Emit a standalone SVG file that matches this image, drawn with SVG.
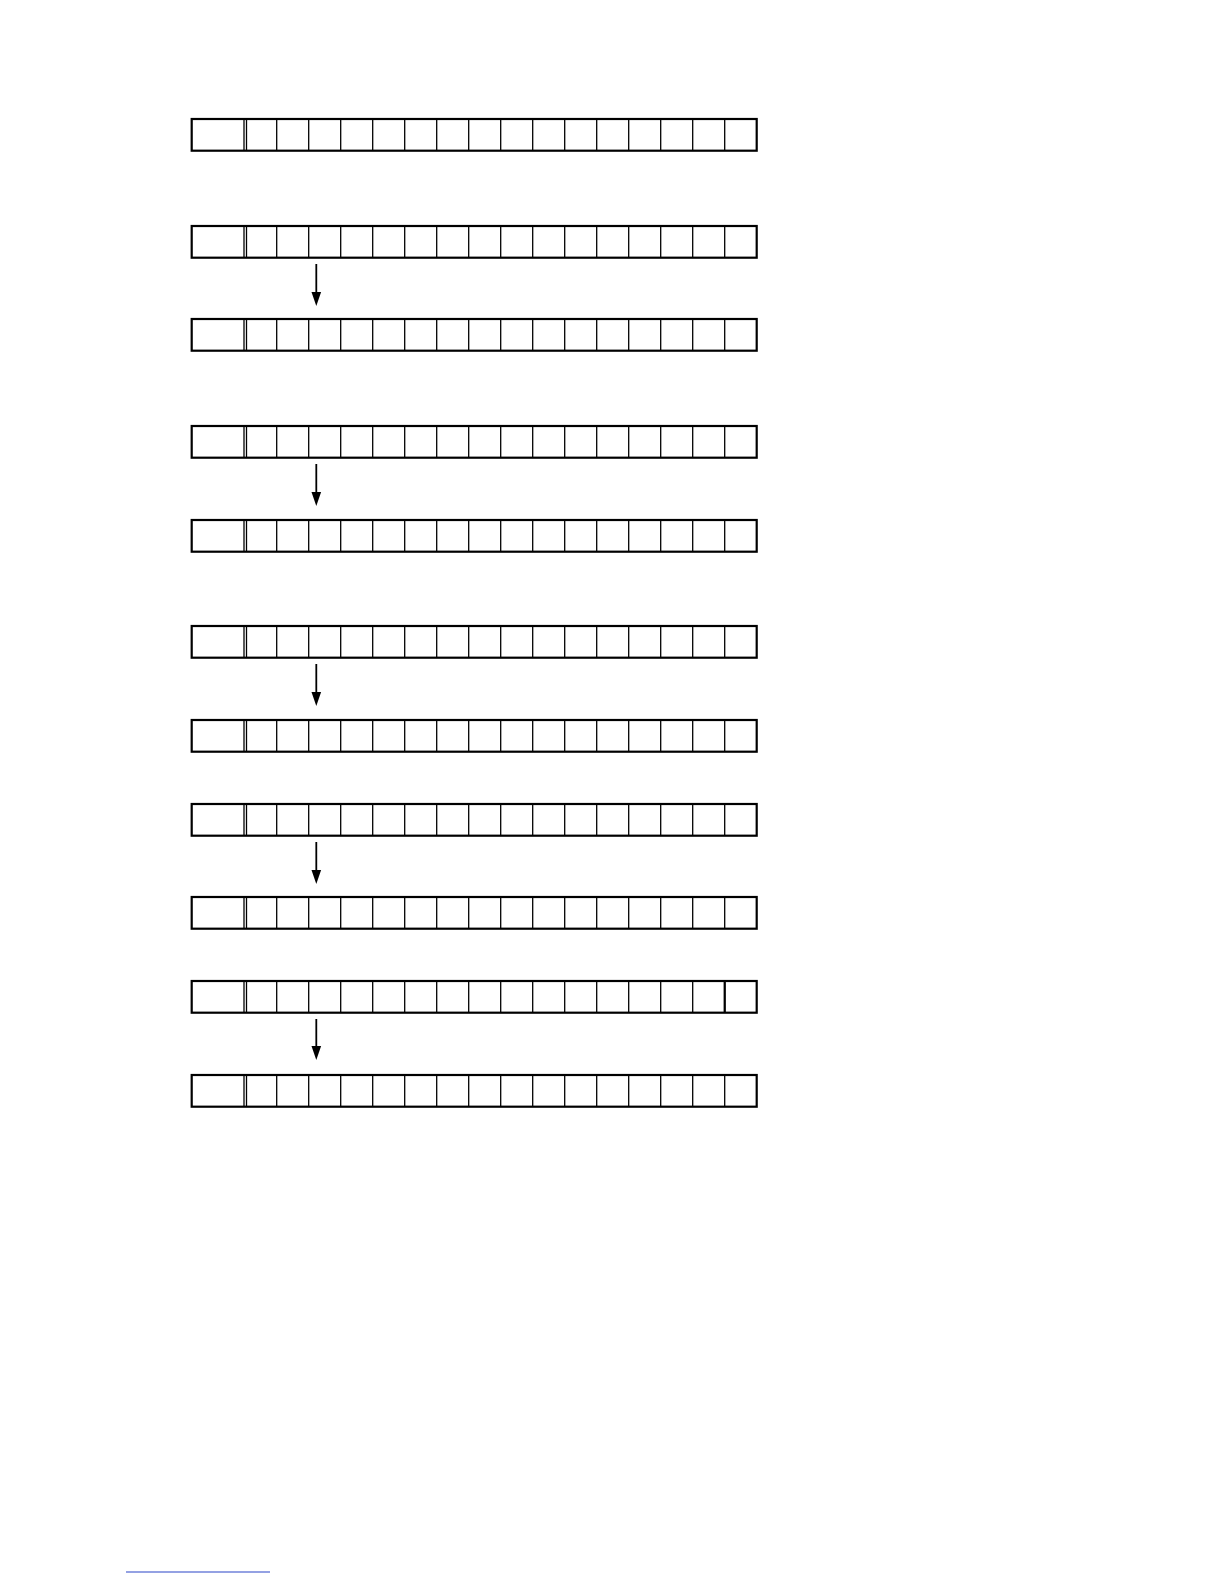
<svg xmlns="http://www.w3.org/2000/svg" xmlns:xlink="http://www.w3.org/1999/xlink" width="1224" height="1584" viewBox="0 0 1224 1584">
<style>
.outer{fill:#fff;stroke:#000;stroke-width:2.2}
.inner{stroke:#000;stroke-width:1.3}
.thick{stroke:#000;stroke-width:2.2}
.conn{stroke:#000;stroke-width:1.8;fill:none}
.head{fill:#000}
</style>
<defs>
<g id="row">
<rect class="outer" x="191.7" y="0" width="565" height="31.7"/>
<line class="inner" x1="244" y1="0" x2="244" y2="31.7"/>
<line class="inner" x1="246.5" y1="0" x2="246.5" y2="31.7"/>
<line class="inner" x1="276.7" y1="0" x2="276.7" y2="31.7"/>
<line class="inner" x1="308.7" y1="0" x2="308.7" y2="31.7"/>
<line class="inner" x1="340.7" y1="0" x2="340.7" y2="31.7"/>
<line class="inner" x1="372.7" y1="0" x2="372.7" y2="31.7"/>
<line class="inner" x1="404.7" y1="0" x2="404.7" y2="31.7"/>
<line class="inner" x1="436.7" y1="0" x2="436.7" y2="31.7"/>
<line class="inner" x1="468.7" y1="0" x2="468.7" y2="31.7"/>
<line class="inner" x1="500.7" y1="0" x2="500.7" y2="31.7"/>
<line class="inner" x1="532.7" y1="0" x2="532.7" y2="31.7"/>
<line class="inner" x1="564.7" y1="0" x2="564.7" y2="31.7"/>
<line class="inner" x1="596.7" y1="0" x2="596.7" y2="31.7"/>
<line class="inner" x1="628.7" y1="0" x2="628.7" y2="31.7"/>
<line class="inner" x1="660.7" y1="0" x2="660.7" y2="31.7"/>
<line class="inner" x1="692.7" y1="0" x2="692.7" y2="31.7"/>
<line class="inner" x1="724.7" y1="0" x2="724.7" y2="31.7"/>
</g>
</defs>
<rect width="1224" height="1584" fill="#fff"/>
<g id="row1"><use xlink:href="#row" href="#row" x="0" y="119"/></g>
<g id="row2"><use xlink:href="#row" href="#row" x="0" y="226"/></g>
<g id="row3"><use xlink:href="#row" href="#row" x="0" y="319"/></g>
<g id="row4"><use xlink:href="#row" href="#row" x="0" y="426"/></g>
<g id="row5"><use xlink:href="#row" href="#row" x="0" y="520"/></g>
<g id="row6"><use xlink:href="#row" href="#row" x="0" y="626"/></g>
<g id="row7"><use xlink:href="#row" href="#row" x="0" y="720"/></g>
<g id="row8"><use xlink:href="#row" href="#row" x="0" y="804"/></g>
<g id="row9"><use xlink:href="#row" href="#row" x="0" y="897"/></g>
<g id="row10"><use xlink:href="#row" href="#row" x="0" y="981"/><line class="thick" x1="724.7" y1="981" x2="724.7" y2="1012.7"/></g>
<g id="row11"><use xlink:href="#row" href="#row" x="0" y="1075"/></g>
<g id="connectors">
<line class="conn" x1="316.3" y1="264" x2="316.3" y2="294"/>
<polygon class="head" points="311.5,292 321.1,292 316.3,306"/>
<line class="conn" x1="316.3" y1="464" x2="316.3" y2="494"/>
<polygon class="head" points="311.5,492 321.1,492 316.3,506"/>
<line class="conn" x1="316.3" y1="664" x2="316.3" y2="694"/>
<polygon class="head" points="311.5,692 321.1,692 316.3,706"/>
<line class="conn" x1="316.3" y1="842" x2="316.3" y2="872"/>
<polygon class="head" points="311.5,870 321.1,870 316.3,884"/>
<line class="conn" x1="316.3" y1="1019" x2="316.3" y2="1048"/>
<polygon class="head" points="311.5,1046 321.1,1046 316.3,1060"/>
</g>
<line x1="126" y1="1572" x2="270" y2="1572" stroke="#2a44c8" stroke-width="1.2"/>
</svg>
